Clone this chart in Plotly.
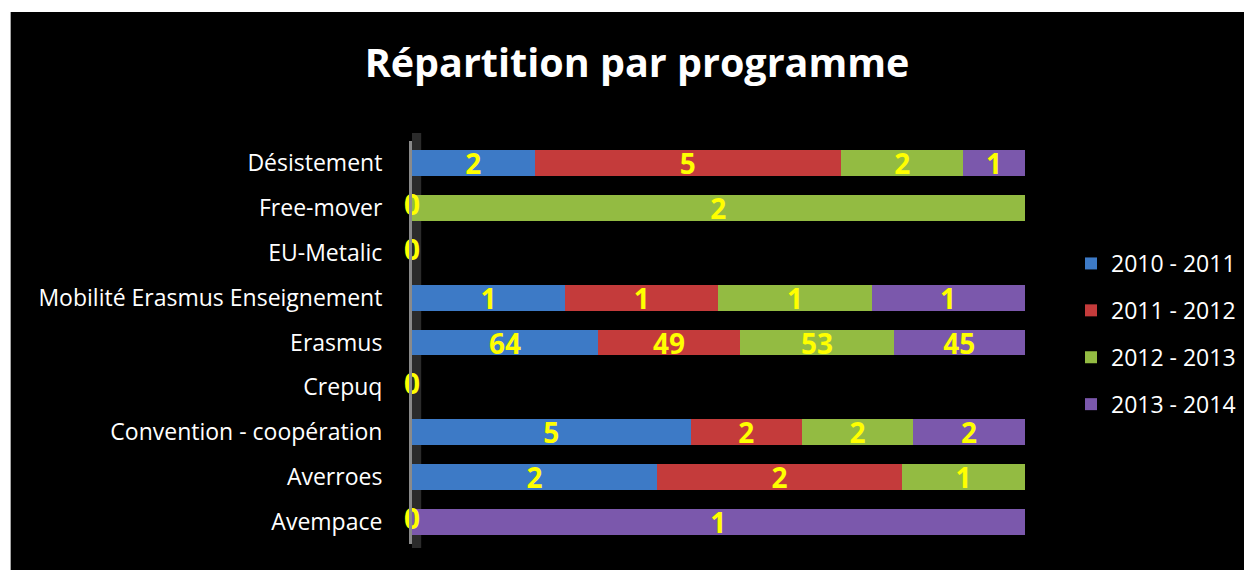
import plotly.graph_objects as go

categories = ["Désistement", "Free-mover", "EU-Metalic", "Mobilité Erasmus Enseignement",
              "Erasmus", "Crepuq", "Convention - coopération", "Averroes", "Avempace"]
series_names = ["2010 - 2011", "2011 - 2012", "2012 - 2013", "2013 - 2014"]
s2010_2011 = [2, 0, 0, 1, 64, 0, 5, 2, 0]
s2011_2012 = [5, None, None, 1, 49, None, 2, 2, None]
s2012_2013 = [2, 2, None, 1, 53, None, 2, 1, None]
s2013_2014 = [1, None, None, 1, 45, None, 2, None, 1]
colors = ["#3D7AC6", "#C43B3B", "#93BB42", "#7B58AC"]

# the page body has an 8px margin, so figure px = page px - 8
OFF = 8
W, H = 1252 - OFF, 570 - OFF
L, R = 412 - OFF, 1026 - OFF      # plot area x (figure px)
T, B = 141 - OFF, 544 - OFF       # plot area y (figure px)
FONT = "Open Sans"
PW, PH = R - L, B - T
XMAX = 100.05

fig = go.Figure()
all_series = [s2010_2011, s2011_2012, s2012_2013, s2013_2014]
for i, (name, vals) in enumerate(zip(series_names, all_series)):
    fig.add_trace(go.Bar(
        y=categories, x=vals, name=name, orientation="h",
        marker=dict(color=colors[i], line=dict(width=0)),
        text=[str(v) if v else None for v in vals],
        texttemplate="<b>%{text}</b>",
        textposition="inside", insidetextanchor="middle",
        constraintext="none", textangle=0, cliponaxis=False,
        textfont=dict(color="#FFFF00", size=28, family=FONT),
        width=0.58, legendgroup=name, hoverinfo="skip",
    ))

# zero labels at the axis
zx, zy = [], []
for vals in all_series:
    for c, v in zip(categories, vals):
        if v == 0:
            zx.append(0)
            zy.append(c)
fig.add_trace(go.Scatter(
    x=zx, y=zy, mode="text", text=["<b>0</b>"] * len(zx), textposition="middle center",
    textfont=dict(color="#FFFF00", size=28, family=FONT),
    cliponaxis=False, showlegend=False, hoverinfo="skip",
))

fig.update_layout(
    width=W, height=H,
    barmode="stack", barnorm="percent",
    paper_bgcolor="black", plot_bgcolor="black",
    margin=dict(l=L, r=W - R, t=T, b=H - B, pad=0),
    font=dict(family=FONT, color="white", size=23),
    title=dict(text="<b>Répartition par programme</b>", x=(637 - OFF) / W, xanchor="center",
               xref="container", y=1 - (63 - OFF) / H, yanchor="middle", yref="container",
               font=dict(size=39.5, color="white", family=FONT)),
    xaxis=dict(range=[0, XMAX], visible=False, fixedrange=True),
    yaxis=dict(categoryorder="array", categoryarray=categories, autorange="reversed",
               showline=True, linecolor="#8A8A8A", linewidth=3, showgrid=False,
               ticks="", ticklabelstandoff=22, tickfont=dict(size=23, color="white")),
    legend=dict(x=(1071 - OFF - L) / PW, xanchor="left", y=(B - (242 - OFF)) / PH, yanchor="top",
                traceorder="grouped", tracegroupgap=14, font=dict(size=23, color="white"),
                bgcolor="rgba(0,0,0,0)"),
    showlegend=True,
    shapes=[
        # 3D wall strip
        dict(type="rect", xref="x", yref="paper", x0=0, x1=1.5, y0=-0.01, y1=1.02,
             fillcolor="#2B2B2B", line=dict(width=0), layer="below"),
        # white page border (left and top)
        dict(type="rect", xref="paper", yref="paper",
             x0=-L / PW - 0.01, x1=(2 - L) / PW,
             y0=(B - H) / PH - 0.01, y1=B / PH + 0.01,
             fillcolor="white", line=dict(width=0), layer="below"),
        dict(type="rect", xref="paper", yref="paper",
             x0=-L / PW - 0.01, x1=(W - L) / PW + 0.01,
             y0=(B - 4) / PH, y1=B / PH + 0.01,
             fillcolor="white", line=dict(width=0), layer="below"),
    ],
)

fig.write_html("out.html")
